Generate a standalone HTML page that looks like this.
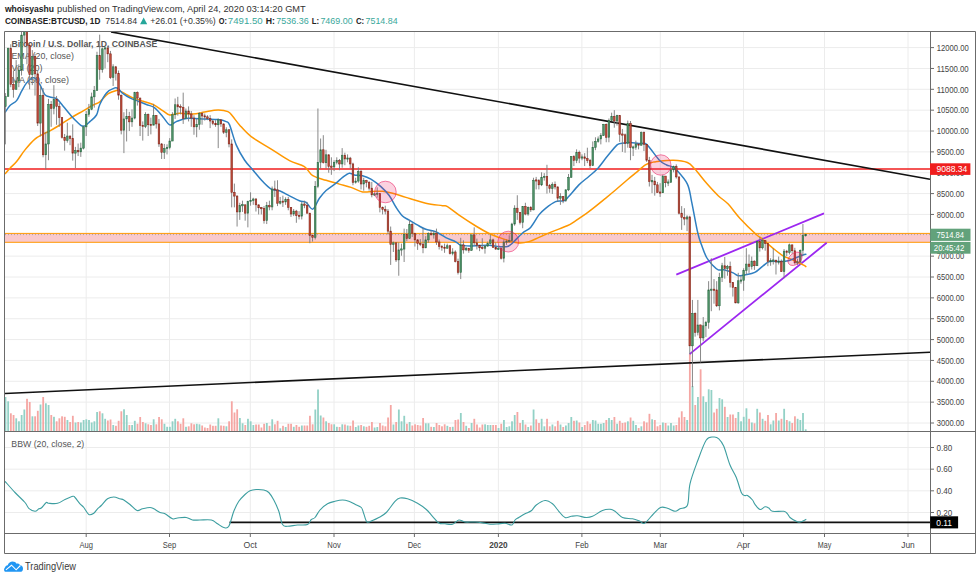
<!DOCTYPE html><html><head><meta charset="utf-8"><style>html,body{margin:0;padding:0;background:#fff;}body{width:980px;height:580px;overflow:hidden;position:relative;}svg{position:absolute;left:0;top:0;}text{font-family:"Liberation Sans",sans-serif;}</style></head><body><svg width="980" height="580" viewBox="0 0 980 580"><defs><clipPath id="cp"><rect x="5" y="32" width="925" height="399"/></clipPath><clipPath id="cb"><rect x="5" y="432" width="925" height="101"/></clipPath></defs><path d="M86.2 32V533 M169.5 32V533 M250.3 32V533 M334.0 32V533 M414.4 32V533 M498.4 32V533 M581.9 32V533 M660.3 32V533 M743.5 32V533 M824.5 32V533 M908.0 32V533 M5 47.60H930 M5 68.46H930 M5 89.31H930 M5 110.17H930 M5 131.02H930 M5 151.88H930 M5 172.73H930 M5 193.59H930 M5 214.44H930 M5 235.30H930 M5 256.15H930 M5 277.01H930 M5 297.87H930 M5 318.72H930 M5 339.58H930 M5 360.43H930 M5 381.29H930 M5 402.14H930 M5 423.00H930 M5 447.50H930 M5 469.16H930 M5 490.82H930 M5 512.48H930" stroke="#ececec" stroke-width="1" fill="none"/><g clip-path="url(#cp)"><g fill="#93d1c6"><rect x="4.57" y="397.00" width="1.8" height="34.25"/><rect x="7.26" y="401.30" width="1.8" height="29.95"/><rect x="15.35" y="418.30" width="1.8" height="12.95"/><rect x="18.04" y="421.30" width="1.8" height="9.95"/><rect x="20.73" y="415.00" width="1.8" height="16.25"/><rect x="23.43" y="409.50" width="1.8" height="21.75"/><rect x="31.51" y="416.30" width="1.8" height="14.95"/><rect x="39.60" y="404.50" width="1.8" height="26.75"/><rect x="44.98" y="403.30" width="1.8" height="27.95"/><rect x="47.68" y="405.00" width="1.8" height="26.25"/><rect x="53.07" y="416.80" width="1.8" height="14.45"/><rect x="66.54" y="420.00" width="1.8" height="11.25"/><rect x="74.62" y="422.50" width="1.8" height="8.75"/><rect x="80.01" y="422.50" width="1.8" height="8.75"/><rect x="82.71" y="420.00" width="1.8" height="11.25"/><rect x="85.40" y="419.30" width="1.8" height="11.95"/><rect x="88.09" y="420.00" width="1.8" height="11.25"/><rect x="90.79" y="422.50" width="1.8" height="8.75"/><rect x="93.48" y="421.30" width="1.8" height="9.95"/><rect x="96.18" y="412.00" width="1.8" height="19.25"/><rect x="101.57" y="413.30" width="1.8" height="17.95"/><rect x="104.26" y="418.80" width="1.8" height="12.45"/><rect x="112.34" y="425.00" width="1.8" height="6.25"/><rect x="123.12" y="409.30" width="1.8" height="21.95"/><rect x="125.82" y="415.00" width="1.8" height="16.25"/><rect x="131.20" y="425.00" width="1.8" height="6.25"/><rect x="133.90" y="420.80" width="1.8" height="10.45"/><rect x="144.68" y="423.30" width="1.8" height="7.95"/><rect x="152.76" y="419.30" width="1.8" height="11.95"/><rect x="163.54" y="423.80" width="1.8" height="7.45"/><rect x="166.23" y="426.80" width="1.8" height="4.45"/><rect x="168.93" y="426.80" width="1.8" height="4.45"/><rect x="171.62" y="421.30" width="1.8" height="9.95"/><rect x="174.32" y="418.80" width="1.8" height="12.45"/><rect x="185.09" y="426.80" width="1.8" height="4.45"/><rect x="195.87" y="423.80" width="1.8" height="7.45"/><rect x="198.56" y="424.30" width="1.8" height="6.95"/><rect x="217.43" y="418.30" width="1.8" height="12.95"/><rect x="225.51" y="426.30" width="1.8" height="4.95"/><rect x="238.98" y="418.00" width="1.8" height="13.25"/><rect x="241.68" y="423.30" width="1.8" height="7.95"/><rect x="247.06" y="418.80" width="1.8" height="12.45"/><rect x="249.76" y="421.30" width="1.8" height="9.95"/><rect x="252.45" y="425.00" width="1.8" height="6.25"/><rect x="265.92" y="423.00" width="1.8" height="8.25"/><rect x="271.31" y="419.30" width="1.8" height="11.95"/><rect x="279.40" y="428.30" width="1.8" height="2.95"/><rect x="284.79" y="427.00" width="1.8" height="4.25"/><rect x="292.87" y="426.80" width="1.8" height="4.45"/><rect x="300.95" y="425.50" width="1.8" height="5.75"/><rect x="314.42" y="409.50" width="1.8" height="21.75"/><rect x="317.12" y="389.50" width="1.8" height="41.75"/><rect x="319.81" y="415.50" width="1.8" height="15.75"/><rect x="325.20" y="421.30" width="1.8" height="9.95"/><rect x="333.28" y="424.30" width="1.8" height="6.95"/><rect x="335.98" y="426.80" width="1.8" height="4.45"/><rect x="341.37" y="424.30" width="1.8" height="6.95"/><rect x="346.76" y="425.50" width="1.8" height="5.75"/><rect x="354.84" y="427.00" width="1.8" height="4.25"/><rect x="357.53" y="425.50" width="1.8" height="5.75"/><rect x="362.92" y="426.30" width="1.8" height="4.95"/><rect x="373.70" y="427.50" width="1.8" height="3.75"/><rect x="376.40" y="427.00" width="1.8" height="4.25"/><rect x="392.56" y="424.50" width="1.8" height="6.75"/><rect x="397.95" y="409.50" width="1.8" height="21.75"/><rect x="400.64" y="421.30" width="1.8" height="9.95"/><rect x="403.34" y="415.80" width="1.8" height="15.45"/><rect x="408.73" y="422.00" width="1.8" height="9.25"/><rect x="424.89" y="423.30" width="1.8" height="7.95"/><rect x="427.59" y="423.30" width="1.8" height="7.95"/><rect x="432.98" y="427.00" width="1.8" height="4.25"/><rect x="446.45" y="425.80" width="1.8" height="5.45"/><rect x="451.84" y="426.80" width="1.8" height="4.45"/><rect x="459.92" y="413.00" width="1.8" height="18.25"/><rect x="465.31" y="425.80" width="1.8" height="5.45"/><rect x="470.70" y="423.00" width="1.8" height="8.25"/><rect x="484.17" y="424.30" width="1.8" height="6.95"/><rect x="486.87" y="425.00" width="1.8" height="6.25"/><rect x="489.56" y="425.00" width="1.8" height="6.25"/><rect x="497.64" y="428.00" width="1.8" height="3.25"/><rect x="503.03" y="420.00" width="1.8" height="11.25"/><rect x="505.73" y="427.00" width="1.8" height="4.25"/><rect x="508.42" y="426.30" width="1.8" height="4.95"/><rect x="511.12" y="421.30" width="1.8" height="9.95"/><rect x="513.81" y="415.00" width="1.8" height="16.25"/><rect x="521.89" y="420.00" width="1.8" height="11.25"/><rect x="527.28" y="427.00" width="1.8" height="4.25"/><rect x="532.67" y="409.50" width="1.8" height="21.75"/><rect x="540.75" y="418.80" width="1.8" height="12.45"/><rect x="543.45" y="426.30" width="1.8" height="4.95"/><rect x="551.53" y="424.50" width="1.8" height="6.75"/><rect x="559.61" y="424.50" width="1.8" height="6.75"/><rect x="565.00" y="425.50" width="1.8" height="5.75"/><rect x="567.70" y="423.00" width="1.8" height="8.25"/><rect x="570.39" y="417.00" width="1.8" height="14.25"/><rect x="575.78" y="420.50" width="1.8" height="10.75"/><rect x="581.17" y="427.00" width="1.8" height="4.25"/><rect x="591.95" y="420.00" width="1.8" height="11.25"/><rect x="594.64" y="420.50" width="1.8" height="10.75"/><rect x="597.34" y="423.80" width="1.8" height="7.45"/><rect x="600.03" y="423.80" width="1.8" height="7.45"/><rect x="602.72" y="423.00" width="1.8" height="8.25"/><rect x="608.11" y="418.00" width="1.8" height="13.25"/><rect x="610.81" y="420.00" width="1.8" height="11.25"/><rect x="616.20" y="423.80" width="1.8" height="7.45"/><rect x="626.97" y="421.30" width="1.8" height="9.95"/><rect x="632.36" y="420.80" width="1.8" height="10.45"/><rect x="635.06" y="425.00" width="1.8" height="6.25"/><rect x="640.45" y="426.30" width="1.8" height="4.95"/><rect x="651.22" y="419.30" width="1.8" height="11.95"/><rect x="662.00" y="422.50" width="1.8" height="8.75"/><rect x="667.39" y="425.50" width="1.8" height="5.75"/><rect x="670.08" y="423.00" width="1.8" height="8.25"/><rect x="672.78" y="425.50" width="1.8" height="5.75"/><rect x="686.25" y="420.00" width="1.8" height="11.25"/><rect x="691.64" y="386.00" width="1.8" height="45.25"/><rect x="697.03" y="397.00" width="1.8" height="34.25"/><rect x="702.42" y="396.30" width="1.8" height="34.95"/><rect x="705.11" y="402.00" width="1.8" height="29.25"/><rect x="707.81" y="389.30" width="1.8" height="41.95"/><rect x="710.50" y="390.00" width="1.8" height="41.25"/><rect x="718.58" y="398.00" width="1.8" height="33.25"/><rect x="721.28" y="399.30" width="1.8" height="31.95"/><rect x="726.67" y="417.00" width="1.8" height="14.25"/><rect x="737.44" y="412.00" width="1.8" height="19.25"/><rect x="740.14" y="421.30" width="1.8" height="9.95"/><rect x="742.83" y="416.80" width="1.8" height="14.45"/><rect x="745.53" y="408.30" width="1.8" height="22.95"/><rect x="750.92" y="422.50" width="1.8" height="8.75"/><rect x="756.31" y="408.80" width="1.8" height="22.45"/><rect x="761.69" y="418.80" width="1.8" height="12.45"/><rect x="769.78" y="424.30" width="1.8" height="6.95"/><rect x="772.47" y="420.50" width="1.8" height="10.75"/><rect x="777.86" y="420.50" width="1.8" height="10.75"/><rect x="783.25" y="408.80" width="1.8" height="22.45"/><rect x="788.64" y="421.30" width="1.8" height="9.95"/><rect x="796.72" y="418.80" width="1.8" height="12.45"/><rect x="799.42" y="420.00" width="1.8" height="11.25"/><rect x="802.11" y="413.00" width="1.8" height="18.25"/><rect x="804.80" y="429.30" width="1.8" height="1.95"/></g><g fill="#f5a6a3"><rect x="9.96" y="413.30" width="1.8" height="17.95"/><rect x="12.65" y="415.00" width="1.8" height="16.25"/><rect x="26.12" y="398.80" width="1.8" height="32.45"/><rect x="28.82" y="402.00" width="1.8" height="29.25"/><rect x="34.21" y="416.30" width="1.8" height="14.95"/><rect x="36.90" y="410.80" width="1.8" height="20.45"/><rect x="42.29" y="397.00" width="1.8" height="34.25"/><rect x="50.37" y="415.00" width="1.8" height="16.25"/><rect x="55.76" y="421.30" width="1.8" height="9.95"/><rect x="58.46" y="418.30" width="1.8" height="12.95"/><rect x="61.15" y="416.30" width="1.8" height="14.95"/><rect x="63.84" y="416.80" width="1.8" height="14.45"/><rect x="69.23" y="422.00" width="1.8" height="9.25"/><rect x="71.93" y="415.80" width="1.8" height="15.45"/><rect x="77.32" y="422.00" width="1.8" height="9.25"/><rect x="98.87" y="411.30" width="1.8" height="19.95"/><rect x="106.96" y="420.50" width="1.8" height="10.75"/><rect x="109.65" y="419.50" width="1.8" height="11.75"/><rect x="115.04" y="425.80" width="1.8" height="5.45"/><rect x="117.73" y="420.80" width="1.8" height="10.45"/><rect x="120.43" y="411.30" width="1.8" height="19.95"/><rect x="128.51" y="425.00" width="1.8" height="6.25"/><rect x="136.59" y="423.80" width="1.8" height="7.45"/><rect x="139.29" y="417.00" width="1.8" height="14.25"/><rect x="141.98" y="422.00" width="1.8" height="9.25"/><rect x="147.37" y="424.30" width="1.8" height="6.95"/><rect x="150.07" y="425.00" width="1.8" height="6.25"/><rect x="155.45" y="424.30" width="1.8" height="6.95"/><rect x="158.15" y="417.00" width="1.8" height="14.25"/><rect x="160.84" y="419.30" width="1.8" height="11.95"/><rect x="177.01" y="421.30" width="1.8" height="9.95"/><rect x="179.70" y="423.80" width="1.8" height="7.45"/><rect x="182.40" y="418.30" width="1.8" height="12.95"/><rect x="187.79" y="426.30" width="1.8" height="4.95"/><rect x="190.48" y="423.30" width="1.8" height="7.95"/><rect x="193.18" y="424.30" width="1.8" height="6.95"/><rect x="201.26" y="425.50" width="1.8" height="5.75"/><rect x="203.95" y="427.50" width="1.8" height="3.75"/><rect x="206.65" y="428.00" width="1.8" height="3.25"/><rect x="209.34" y="424.50" width="1.8" height="6.75"/><rect x="212.04" y="425.80" width="1.8" height="5.45"/><rect x="214.73" y="425.80" width="1.8" height="5.45"/><rect x="220.12" y="425.50" width="1.8" height="5.75"/><rect x="222.81" y="425.80" width="1.8" height="5.45"/><rect x="228.20" y="421.30" width="1.8" height="9.95"/><rect x="230.90" y="401.30" width="1.8" height="29.95"/><rect x="233.59" y="412.50" width="1.8" height="18.75"/><rect x="236.29" y="409.30" width="1.8" height="21.95"/><rect x="244.37" y="425.00" width="1.8" height="6.25"/><rect x="255.15" y="424.50" width="1.8" height="6.75"/><rect x="257.84" y="424.50" width="1.8" height="6.75"/><rect x="260.54" y="427.50" width="1.8" height="3.75"/><rect x="263.23" y="423.80" width="1.8" height="7.45"/><rect x="268.62" y="425.80" width="1.8" height="5.45"/><rect x="274.01" y="424.30" width="1.8" height="6.95"/><rect x="276.70" y="420.80" width="1.8" height="10.45"/><rect x="282.09" y="425.80" width="1.8" height="5.45"/><rect x="287.48" y="423.80" width="1.8" height="7.45"/><rect x="290.17" y="423.80" width="1.8" height="7.45"/><rect x="295.56" y="425.00" width="1.8" height="6.25"/><rect x="298.26" y="426.80" width="1.8" height="4.45"/><rect x="303.65" y="425.50" width="1.8" height="5.75"/><rect x="306.34" y="425.50" width="1.8" height="5.75"/><rect x="309.04" y="415.80" width="1.8" height="15.45"/><rect x="311.73" y="424.30" width="1.8" height="6.95"/><rect x="322.51" y="417.50" width="1.8" height="13.75"/><rect x="327.90" y="423.00" width="1.8" height="8.25"/><rect x="330.59" y="424.30" width="1.8" height="6.95"/><rect x="338.67" y="427.00" width="1.8" height="4.25"/><rect x="344.06" y="424.50" width="1.8" height="6.75"/><rect x="349.45" y="425.80" width="1.8" height="5.45"/><rect x="352.15" y="420.50" width="1.8" height="10.75"/><rect x="360.23" y="425.00" width="1.8" height="6.25"/><rect x="365.62" y="426.80" width="1.8" height="4.45"/><rect x="368.31" y="425.80" width="1.8" height="5.45"/><rect x="371.01" y="422.00" width="1.8" height="9.25"/><rect x="379.09" y="423.00" width="1.8" height="8.25"/><rect x="381.78" y="425.50" width="1.8" height="5.75"/><rect x="384.48" y="426.30" width="1.8" height="4.95"/><rect x="387.17" y="417.50" width="1.8" height="13.75"/><rect x="389.87" y="405.00" width="1.8" height="26.25"/><rect x="395.26" y="422.00" width="1.8" height="9.25"/><rect x="406.03" y="423.80" width="1.8" height="7.45"/><rect x="411.42" y="425.50" width="1.8" height="5.75"/><rect x="414.12" y="424.30" width="1.8" height="6.95"/><rect x="416.81" y="425.00" width="1.8" height="6.25"/><rect x="419.51" y="425.50" width="1.8" height="5.75"/><rect x="422.20" y="418.00" width="1.8" height="13.25"/><rect x="430.28" y="426.80" width="1.8" height="4.45"/><rect x="435.67" y="423.00" width="1.8" height="8.25"/><rect x="438.37" y="425.00" width="1.8" height="6.25"/><rect x="441.06" y="426.30" width="1.8" height="4.95"/><rect x="443.76" y="424.30" width="1.8" height="6.95"/><rect x="449.14" y="427.00" width="1.8" height="4.25"/><rect x="454.53" y="420.00" width="1.8" height="11.25"/><rect x="457.23" y="419.50" width="1.8" height="11.75"/><rect x="462.62" y="422.00" width="1.8" height="9.25"/><rect x="468.00" y="428.00" width="1.8" height="3.25"/><rect x="473.39" y="418.80" width="1.8" height="12.45"/><rect x="476.09" y="424.50" width="1.8" height="6.75"/><rect x="478.78" y="427.50" width="1.8" height="3.75"/><rect x="481.48" y="424.50" width="1.8" height="6.75"/><rect x="492.25" y="425.00" width="1.8" height="6.25"/><rect x="494.95" y="425.00" width="1.8" height="6.25"/><rect x="500.34" y="423.80" width="1.8" height="7.45"/><rect x="516.50" y="412.00" width="1.8" height="19.25"/><rect x="519.20" y="423.00" width="1.8" height="8.25"/><rect x="524.59" y="424.50" width="1.8" height="6.75"/><rect x="529.98" y="425.50" width="1.8" height="5.75"/><rect x="535.36" y="419.30" width="1.8" height="11.95"/><rect x="538.06" y="423.00" width="1.8" height="8.25"/><rect x="546.14" y="418.80" width="1.8" height="12.45"/><rect x="548.84" y="426.30" width="1.8" height="4.95"/><rect x="554.23" y="426.30" width="1.8" height="4.95"/><rect x="556.92" y="420.80" width="1.8" height="10.45"/><rect x="562.31" y="427.00" width="1.8" height="4.25"/><rect x="573.09" y="420.80" width="1.8" height="10.45"/><rect x="578.48" y="422.50" width="1.8" height="8.75"/><rect x="583.86" y="425.00" width="1.8" height="6.25"/><rect x="586.56" y="421.30" width="1.8" height="9.95"/><rect x="589.25" y="423.80" width="1.8" height="7.45"/><rect x="605.42" y="420.00" width="1.8" height="11.25"/><rect x="613.50" y="417.00" width="1.8" height="14.25"/><rect x="618.89" y="420.80" width="1.8" height="10.45"/><rect x="621.59" y="423.00" width="1.8" height="8.25"/><rect x="624.28" y="422.50" width="1.8" height="8.75"/><rect x="629.67" y="417.50" width="1.8" height="13.75"/><rect x="637.75" y="428.00" width="1.8" height="3.25"/><rect x="643.14" y="421.30" width="1.8" height="9.95"/><rect x="645.84" y="422.50" width="1.8" height="8.75"/><rect x="648.53" y="413.80" width="1.8" height="17.45"/><rect x="653.92" y="420.00" width="1.8" height="11.25"/><rect x="656.61" y="426.30" width="1.8" height="4.95"/><rect x="659.31" y="425.00" width="1.8" height="6.25"/><rect x="664.70" y="423.00" width="1.8" height="8.25"/><rect x="675.47" y="425.00" width="1.8" height="6.25"/><rect x="678.17" y="417.50" width="1.8" height="13.75"/><rect x="680.86" y="411.30" width="1.8" height="19.95"/><rect x="683.56" y="417.00" width="1.8" height="14.25"/><rect x="688.95" y="354.00" width="1.8" height="77.25"/><rect x="694.33" y="405.00" width="1.8" height="26.25"/><rect x="699.72" y="369.30" width="1.8" height="61.95"/><rect x="713.20" y="412.50" width="1.8" height="18.75"/><rect x="715.89" y="408.80" width="1.8" height="22.45"/><rect x="723.97" y="406.80" width="1.8" height="24.45"/><rect x="729.36" y="414.50" width="1.8" height="16.75"/><rect x="732.06" y="414.50" width="1.8" height="16.75"/><rect x="734.75" y="418.00" width="1.8" height="13.25"/><rect x="748.22" y="418.80" width="1.8" height="12.45"/><rect x="753.61" y="423.30" width="1.8" height="7.95"/><rect x="759.00" y="412.50" width="1.8" height="18.75"/><rect x="764.39" y="420.80" width="1.8" height="10.45"/><rect x="767.08" y="415.00" width="1.8" height="16.25"/><rect x="775.17" y="413.00" width="1.8" height="18.25"/><rect x="780.56" y="418.80" width="1.8" height="12.45"/><rect x="785.94" y="420.00" width="1.8" height="11.25"/><rect x="791.33" y="423.00" width="1.8" height="8.25"/><rect x="794.03" y="416.30" width="1.8" height="14.95"/></g></g><g font-size="9.4" fill="#555"><text x="11.4" y="46.8" font-size="9.8" font-weight="bold" textLength="146" lengthAdjust="spacingAndGlyphs">Bitcoin / U.S. Dollar, 1D, COINBASE</text><text x="11.4" y="58.7" textLength="62.5" lengthAdjust="spacingAndGlyphs">EMA (20, close)</text><text x="11.4" y="71" textLength="31" lengthAdjust="spacingAndGlyphs">Vol (20)</text><text x="11.4" y="83.3" textLength="57.7" lengthAdjust="spacingAndGlyphs">MA (50, close)</text><text x="11.3" y="447" textLength="73" lengthAdjust="spacingAndGlyphs">BBW (20, close, 2)</text></g><g clip-path="url(#cp)"><rect x="5" y="233.8" width="925" height="8.4" fill="#f9c9cc"/><path d="M5 233.4H930M5 242.3H930" stroke="#ff9800" stroke-width="1" fill="none"/><path d="M5 234.6H930" stroke="#999" stroke-width="0.8" stroke-dasharray="1 2" fill="none"/><path d="M5 169H930" stroke="#f01e1e" stroke-width="1.5" fill="none"/><path d="M111 31.9L930 179.3" stroke="#111" stroke-width="1.6" fill="none"/><path d="M5 393.5L930 352.2" stroke="#111" stroke-width="1.6" fill="none"/><path d="M676.3 274.7L824 213.4M689.6 354.1L826.7 242.8" stroke="#9c27f0" stroke-width="1.8" fill="none"/><path d="M5.00 174.00C5.83 173.03 8.07 170.27 10.00 168.20C11.93 166.13 14.10 164.65 16.60 161.60C19.10 158.55 21.95 153.65 25.00 149.90C28.05 146.15 31.85 141.73 34.90 139.10C37.95 136.47 40.80 135.48 43.30 134.10C45.80 132.72 47.13 132.32 49.90 130.80C52.67 129.28 56.30 127.22 59.90 125.00C63.50 122.78 67.62 119.87 71.50 117.50C75.38 115.13 79.58 112.88 83.20 110.80C86.82 108.72 90.43 106.50 93.20 105.00C95.97 103.50 97.30 103.68 99.80 101.80C102.30 99.92 105.42 95.60 108.20 93.70C110.98 91.80 114.57 90.87 116.50 90.40C118.43 89.93 118.13 90.20 119.80 90.90C121.47 91.60 124.28 93.43 126.50 94.60C128.72 95.77 130.33 96.80 133.10 97.90C135.87 99.00 139.77 100.10 143.10 101.20C146.43 102.30 149.78 102.90 153.10 104.50C156.42 106.10 160.23 109.05 163.00 110.80C165.77 112.55 166.93 114.58 169.70 115.00C172.47 115.42 175.72 113.45 179.60 113.30C183.48 113.15 188.83 114.32 193.00 114.10C197.17 113.88 200.45 112.68 204.60 112.00C208.75 111.32 214.02 110.07 217.90 110.00C221.78 109.93 225.40 110.50 227.90 111.60C230.40 112.70 230.97 114.38 232.90 116.60C234.83 118.82 236.45 121.57 239.50 124.90C242.55 128.23 245.92 132.57 251.20 136.60C256.48 140.63 264.82 145.08 271.20 149.10C277.58 153.12 283.97 157.77 289.50 160.70C295.03 163.63 300.52 164.20 304.40 166.70C308.28 169.20 309.18 173.43 312.80 175.70C316.42 177.97 321.68 178.90 326.10 180.30C330.52 181.70 335.15 182.92 339.30 184.10C343.45 185.28 347.12 186.10 351.00 187.40C354.88 188.70 359.00 191.22 362.60 191.90C366.20 192.58 369.27 191.62 372.60 191.50C375.93 191.38 379.27 190.92 382.60 191.20C385.93 191.48 388.72 192.17 392.60 193.20C396.48 194.23 400.37 195.73 405.90 197.40C411.43 199.07 419.70 201.82 425.80 203.20C431.90 204.58 438.88 205.12 442.50 205.70C446.12 206.28 444.73 205.13 447.50 206.70C450.27 208.27 454.38 211.88 459.10 215.10C463.82 218.32 470.80 222.93 475.80 226.00C480.80 229.07 485.23 231.60 489.10 233.50C492.97 235.40 495.68 236.20 499.00 237.40C502.32 238.60 505.67 239.78 509.00 240.70C512.33 241.62 515.68 242.75 519.00 242.90C522.32 243.05 525.58 242.52 528.90 241.60C532.22 240.68 535.02 239.07 538.90 237.40C542.78 235.73 547.48 233.53 552.20 231.60C556.92 229.67 563.32 227.60 567.20 225.80C571.08 224.00 571.90 223.17 575.50 220.80C579.10 218.43 583.80 215.35 588.80 211.60C593.80 207.85 601.05 201.90 605.50 198.30C609.95 194.70 611.90 193.05 615.50 190.00C619.10 186.95 623.78 182.80 627.10 180.00C630.42 177.20 632.35 175.72 635.40 173.20C638.45 170.68 642.62 166.70 645.40 164.90C648.18 163.10 650.23 162.95 652.10 162.40C653.97 161.85 653.07 161.95 656.60 161.60C660.13 161.25 668.17 160.15 673.30 160.30C678.43 160.45 683.80 161.03 687.40 162.50C691.00 163.97 691.70 165.63 694.90 169.10C698.10 172.57 702.72 178.87 706.60 183.30C710.48 187.73 714.60 192.23 718.20 195.70C721.80 199.17 724.60 200.35 728.20 204.10C731.80 207.85 735.08 213.08 739.80 218.20C744.52 223.32 752.88 231.45 756.50 234.80C760.12 238.15 758.73 236.05 761.50 238.30C764.27 240.55 769.50 245.38 773.10 248.30C776.70 251.22 779.77 253.85 783.10 255.80C786.43 257.75 789.77 258.48 793.10 260.00C796.43 261.52 800.88 263.75 803.10 264.90C805.32 266.05 805.85 266.57 806.40 266.90" stroke="#ff9800" stroke-width="1.5" fill="none" stroke-linejoin="round"/><path d="M5.00 112.50C5.83 111.33 8.07 107.48 10.00 105.50C11.93 103.52 14.67 102.98 16.60 100.60C18.53 98.22 19.93 94.15 21.60 91.20C23.27 88.25 24.80 85.12 26.60 82.90C28.40 80.68 30.87 78.60 32.40 77.90C33.93 77.20 34.55 77.58 35.80 78.70C37.05 79.82 38.38 81.95 39.90 84.60C41.42 87.25 43.23 92.53 44.90 94.60C46.57 96.67 47.95 96.32 49.90 97.00C51.85 97.68 54.38 97.17 56.60 98.70C58.82 100.23 60.72 103.28 63.20 106.20C65.68 109.12 69.00 113.40 71.50 116.20C74.00 119.00 76.53 121.40 78.20 123.00C79.87 124.60 80.38 125.33 81.50 125.80C82.62 126.27 83.50 126.50 84.90 125.80C86.30 125.10 87.97 123.40 89.90 121.60C91.83 119.80 94.85 117.85 96.50 115.00C98.15 112.15 98.13 108.18 99.80 104.50C101.47 100.82 104.00 95.67 106.50 92.90C109.00 90.13 112.87 88.60 114.80 87.90C116.73 87.20 116.72 87.73 118.10 88.70C119.48 89.67 121.15 92.17 123.10 93.70C125.05 95.23 127.30 96.65 129.80 97.90C132.30 99.15 135.33 100.10 138.10 101.20C140.87 102.30 143.63 103.38 146.40 104.50C149.17 105.62 151.93 105.82 154.70 107.90C157.47 109.98 160.50 114.17 163.00 117.00C165.50 119.83 167.48 124.13 169.70 124.90C171.92 125.67 173.25 122.70 176.30 121.60C179.35 120.50 183.28 118.72 188.00 118.30C192.72 117.88 199.62 118.88 204.60 119.10C209.58 119.32 214.30 119.18 217.90 119.60C221.50 120.02 224.25 120.72 226.20 121.60C228.15 122.48 227.93 121.02 229.60 124.90C231.27 128.78 233.72 139.05 236.20 144.90C238.68 150.75 241.72 155.82 244.50 160.00C247.28 164.18 249.85 166.40 252.90 170.00C255.95 173.60 259.75 178.42 262.80 181.60C265.85 184.78 268.42 187.57 271.20 189.10C273.98 190.63 276.45 189.68 279.50 190.80C282.55 191.92 286.18 194.13 289.50 195.80C292.82 197.47 296.63 199.70 299.40 200.80C302.17 201.90 303.87 201.02 306.10 202.40C308.33 203.78 310.58 209.78 312.80 209.10C315.02 208.42 317.18 201.40 319.40 198.30C321.62 195.20 323.33 193.02 326.10 190.50C328.87 187.98 333.25 185.38 336.00 183.20C338.75 181.02 340.38 179.07 342.60 177.40C344.82 175.73 347.35 173.62 349.30 173.20C351.25 172.78 352.08 174.48 354.30 174.90C356.52 175.32 359.83 175.00 362.60 175.70C365.37 176.40 367.85 177.28 370.90 179.10C373.95 180.92 377.85 183.87 380.90 186.60C383.95 189.33 386.70 192.10 389.20 195.50C391.70 198.90 393.68 203.58 395.90 207.00C398.12 210.42 400.28 213.82 402.50 216.00C404.72 218.18 406.42 218.43 409.20 220.10C411.98 221.77 416.43 224.47 419.20 226.00C421.97 227.53 423.03 228.33 425.80 229.30C428.57 230.27 432.47 230.42 435.80 231.80C439.13 233.18 442.47 235.93 445.80 237.60C449.13 239.27 453.30 240.55 455.80 241.80C458.30 243.05 458.30 244.42 460.80 245.10C463.30 245.78 467.75 245.82 470.80 245.90C473.85 245.98 476.05 245.70 479.10 245.60C482.15 245.50 485.78 245.13 489.10 245.30C492.42 245.47 495.97 246.38 499.00 246.60C502.03 246.82 505.08 247.17 507.30 246.60C509.52 246.03 509.80 245.43 512.30 243.20C514.80 240.97 519.25 235.83 522.30 233.20C525.35 230.57 527.83 230.45 530.60 227.40C533.37 224.35 536.40 218.08 538.90 214.90C541.40 211.72 542.82 210.52 545.60 208.30C548.38 206.08 552.55 202.85 555.60 201.60C558.65 200.35 561.68 201.68 563.90 200.80C566.12 199.92 566.40 198.95 568.90 196.30C571.40 193.65 575.58 188.20 578.90 184.90C582.22 181.60 585.75 179.13 588.80 176.50C591.85 173.87 594.15 172.42 597.20 169.10C600.25 165.78 603.78 160.63 607.10 156.60C610.42 152.57 614.60 147.12 617.10 144.90C619.60 142.68 619.88 143.72 622.10 143.30C624.32 142.88 627.62 142.35 630.40 142.40C633.18 142.45 636.33 143.42 638.80 143.60C641.27 143.78 643.33 142.72 645.20 143.50C647.07 144.28 647.53 145.42 650.00 148.30C652.47 151.18 657.23 158.02 660.00 160.80C662.77 163.58 664.67 164.03 666.60 165.00C668.53 165.97 669.93 165.77 671.60 166.60C673.27 167.43 673.97 167.08 676.60 170.00C679.23 172.92 684.90 178.83 687.40 184.10C689.90 189.37 689.87 193.45 691.60 201.60C693.33 209.75 696.13 225.77 697.80 233.00C699.47 240.23 700.13 240.92 701.60 245.00C703.07 249.08 704.67 254.03 706.60 257.50C708.53 260.97 711.27 263.73 713.20 265.80C715.13 267.87 716.25 269.22 718.20 269.90C720.15 270.58 722.40 269.40 724.90 269.90C727.40 270.40 730.98 271.92 733.20 272.90C735.42 273.88 736.27 275.47 738.20 275.80C740.13 276.13 742.03 275.47 744.80 274.90C747.57 274.33 751.75 273.92 754.80 272.40C757.85 270.88 760.60 267.60 763.10 265.80C765.60 264.00 766.75 262.30 769.80 261.60C772.85 260.90 778.35 261.73 781.40 261.60C784.45 261.47 785.88 261.35 788.10 260.80C790.32 260.25 792.20 259.27 794.70 258.30C797.20 257.33 801.15 255.67 803.10 255.00C805.05 254.33 805.85 254.42 806.40 254.30" stroke="#2f7fc1" stroke-width="1.5" fill="none" stroke-linejoin="round"/><path d="M5.37 93.06V144.37 M8.06 47.60V96.40 M10.76 44.26V87.23 M13.45 70.54V97.65 M16.15 60.11V89.73 M18.84 64.28V87.23 M21.53 30.92V75.55 M24.23 14.23V43.43 M26.92 -0.37V64.28 M29.62 43.43V89.31 M32.31 50.10V85.14 M35.01 53.86V95.57 M37.70 70.54V126.02 M40.40 85.97V136.44 M43.09 88.06V157.30 M45.78 131.86V169.40 M48.48 98.90V160.22 M51.17 100.99V126.85 M53.87 85.14V114.34 M56.56 95.98V124.77 M59.26 103.08V126.85 M61.95 117.67V138.53 M64.64 133.94V150.63 M67.34 122.68V142.70 M70.03 135.61V145.20 M72.73 124.35V160.64 M75.42 146.87V168.14 M78.12 143.54V156.05 M80.81 142.70V156.88 M83.51 125.60V149.37 M86.20 111.00V136.03 M88.89 103.91V116.84 M91.59 92.65V110.17 M94.28 85.97V107.66 M96.98 51.77V90.56 M99.67 34.67V79.72 M102.37 47.60V72.63 M105.06 47.18V68.46 M107.76 45.93V62.20 M110.45 50.94V78.88 M113.14 64.28V85.97 M115.84 65.95V80.55 M118.53 70.54V99.74 M121.23 94.73V134.36 M123.92 112.25V153.13 M126.62 108.92V141.45 M129.31 111.83V131.02 M132.00 109.33V126.85 M134.70 91.81V119.34 M137.39 91.40V105.58 M140.09 97.65V136.03 M142.78 121.43V140.62 M145.48 112.25V128.10 M148.17 113.50V136.03 M150.87 117.67V134.36 M153.56 103.91V125.18 M156.25 115.17V128.52 M158.95 118.93V146.87 M161.64 143.12V158.97 M164.34 143.95V158.97 M167.03 144.37V154.38 M169.73 138.11V149.37 M172.42 112.25V141.03 M175.12 98.49V118.93 M177.81 96.82V115.59 M180.50 104.33V114.34 M183.20 92.65V123.93 M185.89 108.50V118.93 M188.59 106.41V121.43 M191.28 111.00V126.85 M193.98 115.17V134.78 M196.67 118.93V137.28 M199.36 112.25V129.77 M202.06 112.25V124.77 M204.75 113.50V120.59 M207.45 115.17V120.18 M210.14 115.17V128.10 M212.84 119.76V125.18 M215.53 120.18V126.85 M218.23 118.51V148.12 M220.92 119.34V126.85 M223.61 123.51V133.94 M226.31 127.27V137.28 M229.00 128.94V147.29 M231.70 139.36V207.35 M234.39 183.58V207.35 M237.09 195.26V226.54 M239.78 202.76V219.87 M242.48 200.68V211.94 M245.17 204.43V220.70 M247.86 200.68V227.37 M250.56 192.34V205.68 M253.25 197.76V204.85 M255.95 198.18V211.52 M258.64 204.43V214.44 M261.34 206.94V214.44 M264.03 206.10V223.62 M266.72 201.93V224.04 M269.42 200.68V210.27 M272.11 186.50V210.27 M274.81 180.66V196.93 M277.50 180.24V206.10 M280.20 196.93V204.43 M282.89 195.67V206.94 M285.59 197.34V204.85 M288.28 196.93V210.27 M290.97 207.35V216.95 M293.67 209.02V216.11 M296.36 209.86V222.79 M299.06 211.11V219.45 M301.75 201.93V219.45 M304.45 200.68V208.19 M307.14 201.93V213.19 M309.84 212.78V243.22 M312.53 234.47V241.56 M315.22 181.08V239.47 M317.92 108.50V188.17 M320.61 138.53V168.56 M323.31 135.19V163.56 M326.00 149.79V168.56 M328.70 154.38V172.73 M331.39 157.30V174.82 M334.08 160.22V171.06 M336.78 157.30V164.39 M339.47 158.97V170.23 M342.17 148.12V167.73 M344.86 152.71V165.23 M347.56 154.38V162.31 M350.25 156.88V168.56 M352.95 162.72V185.25 M355.64 177.74V183.58 M358.33 167.31V182.74 M361.03 169.81V189.42 M363.72 177.74V190.67 M366.42 179.82V187.33 M369.11 181.08V190.67 M371.81 181.91V197.34 M374.50 192.75V196.09 M377.20 187.33V197.76 M379.89 193.17V212.36 M382.58 206.52V214.44 M385.28 205.68V214.44 M387.97 209.02V234.47 M390.67 226.54V264.91 M393.36 241.56V251.98 M396.06 242.39V261.99 M398.75 242.39V275.76 M401.44 243.64V255.74 M404.14 228.63V261.99 M406.83 229.04V241.14 M409.53 219.87V239.05 M412.22 222.79V236.97 M414.92 233.21V246.56 M417.61 239.05V249.90 M420.31 239.05V246.14 M423.00 228.21V253.24 M425.69 236.13V248.23 M428.39 232.38V242.81 M431.08 230.71V235.30 M433.78 231.13V238.64 M436.47 228.63V244.89 M439.17 239.47V249.48 M441.86 244.89V250.73 M444.56 243.64V252.82 M447.25 243.64V248.65 M449.94 244.89V254.49 M452.64 248.23V255.32 M455.33 250.32V262.41 M458.03 258.66V274.51 M460.72 237.80V279.10 M463.42 240.30V253.65 M466.11 246.98V251.15 M468.80 248.23V252.82 M471.50 234.88V250.73 M474.19 227.37V245.31 M476.89 238.64V249.48 M479.58 244.89V251.15 M482.28 238.22V249.48 M484.97 244.89V253.65 M487.67 241.56V246.56 M490.36 234.47V244.48 M493.05 238.64V247.81 M495.75 242.39V249.90 M498.44 245.73V249.90 M501.14 247.40V259.49 M503.83 239.47V262.41 M506.53 239.47V244.89 M509.22 235.30V242.81 M511.92 222.79V241.56 M514.61 205.27V225.71 M517.30 195.26V219.87 M520.00 212.36V224.45 M522.69 206.10V228.21 M525.39 202.76V215.28 M528.08 206.52V215.70 M530.78 206.10V211.94 M533.47 177.74V210.27 M536.16 176.90V189.42 M538.86 178.99V189.42 M541.55 172.32V186.08 M544.25 173.15V180.66 M546.94 164.81V193.59 M549.64 183.99V192.75 M552.33 182.33V194.01 M555.03 181.49V189.42 M557.72 186.50V201.93 M560.41 193.17V204.85 M563.11 196.09V203.18 M565.80 189.42V201.93 M568.50 173.98V191.09 M571.19 156.05V177.74 M573.89 155.21V166.06 M576.58 149.37V163.14 M579.28 150.63V163.14 M581.97 154.38V160.22 M584.66 153.13V166.06 M587.36 147.71V163.14 M590.05 158.97V168.56 M592.75 141.45V166.06 M595.44 137.28V150.21 M598.14 136.44V142.70 M600.83 133.11V144.37 M603.52 123.93V136.03 M606.22 123.51V142.28 M608.91 118.51V142.28 M611.61 112.67V120.59 M614.30 110.17V127.69 M617.00 114.75V125.60 M619.69 115.17V141.87 M622.39 128.94V151.88 M625.08 133.52V152.71 M627.77 120.59V147.71 M630.47 121.01V160.22 M633.16 145.62V156.05 M635.86 140.62V149.79 M638.55 143.54V149.37 M641.25 131.44V145.62 M643.94 131.44V151.04 M646.64 143.95V161.89 M649.33 156.88V186.50 M652.02 174.82V193.17 M654.72 176.90V195.67 M657.41 181.91V192.75 M660.11 183.16V196.93 M662.80 174.82V192.75 M665.50 176.07V187.33 M668.19 179.41V186.08 M670.88 166.48V182.74 M673.58 165.64V172.32 M676.27 164.39V178.57 M678.97 176.90V214.44 M681.66 206.10V229.88 M684.36 208.19V225.29 M687.05 215.28V231.13 M689.75 215.70V354.18 M692.44 299.95V387.13 M695.13 312.46V336.66 M697.83 299.95V335.41 M700.52 324.56V362.52 M703.22 317.05V341.25 M705.91 320.81V337.07 M708.61 281.18V328.73 M711.30 258.24V311.21 M714.00 279.10V303.71 M716.69 281.18V307.04 M719.38 272.84V310.38 M722.08 262.83V282.02 M724.77 256.99V278.68 M727.47 264.91V275.76 M730.16 261.58V287.44 M732.86 282.43V296.61 M735.55 287.02V303.29 M738.24 272.84V303.71 M740.94 275.76V283.68 M743.63 268.25V290.78 M746.33 248.23V274.51 M749.02 254.49V272.84 M751.72 256.57V269.50 M754.41 260.33V269.92 M757.11 241.14V265.75 M759.80 236.97V251.57 M762.49 237.80V249.48 M765.19 240.30V250.73 M767.88 243.64V266.17 M770.58 258.24V265.75 M773.27 248.23V264.50 M775.97 259.49V274.51 M778.66 256.57V264.50 M781.36 259.49V272.01 M784.05 249.06V278.26 M786.74 249.90V256.15 M789.44 243.64V254.49 M792.13 244.48V253.65 M794.83 247.81V264.50 M797.52 258.66V264.91 M800.22 249.48V263.25 M802.91 224.04V255.32 M805.60 233.78V236.59" stroke="#7a7a7a" stroke-width="0.9" fill="none"/><g fill="#4f9268" stroke="#2b6a43" stroke-width="0.55"><rect x="4.57" y="96.40" width="1.6" height="10.01"/><rect x="7.26" y="48.43" width="1.6" height="47.97"/><rect x="15.35" y="80.97" width="1.6" height="8.34"/><rect x="18.04" y="70.12" width="1.6" height="10.84"/><rect x="20.73" y="35.09" width="1.6" height="35.04"/><rect x="23.43" y="23.41" width="1.6" height="11.68"/><rect x="31.51" y="56.36" width="1.6" height="18.35"/><rect x="39.60" y="95.57" width="1.6" height="27.53"/><rect x="44.98" y="143.95" width="1.6" height="10.84"/><rect x="47.68" y="104.33" width="1.6" height="39.63"/><rect x="53.07" y="99.32" width="1.6" height="9.18"/><rect x="66.54" y="136.03" width="1.6" height="4.59"/><rect x="74.62" y="150.63" width="1.6" height="2.50"/><rect x="80.01" y="148.12" width="1.6" height="3.75"/><rect x="82.71" y="126.85" width="1.6" height="21.27"/><rect x="85.40" y="114.34" width="1.6" height="12.51"/><rect x="88.09" y="109.33" width="1.6" height="5.01"/><rect x="90.79" y="96.82" width="1.6" height="12.51"/><rect x="93.48" y="90.56" width="1.6" height="6.26"/><rect x="96.18" y="55.53" width="1.6" height="35.04"/><rect x="101.57" y="48.85" width="1.6" height="20.86"/><rect x="104.26" y="47.83" width="1.6" height="1.20"/><rect x="112.34" y="66.79" width="1.6" height="10.84"/><rect x="123.12" y="118.93" width="1.6" height="11.26"/><rect x="125.82" y="116.42" width="1.6" height="2.50"/><rect x="131.20" y="118.09" width="1.6" height="3.75"/><rect x="133.90" y="92.65" width="1.6" height="25.44"/><rect x="144.68" y="114.34" width="1.6" height="12.10"/><rect x="152.76" y="115.59" width="1.6" height="9.59"/><rect x="163.54" y="148.54" width="1.6" height="3.75"/><rect x="166.23" y="147.52" width="1.6" height="1.20"/><rect x="168.93" y="141.03" width="1.6" height="6.67"/><rect x="171.62" y="114.75" width="1.6" height="26.28"/><rect x="174.32" y="104.74" width="1.6" height="10.01"/><rect x="185.09" y="111.00" width="1.6" height="7.51"/><rect x="195.87" y="124.35" width="1.6" height="2.50"/><rect x="198.56" y="113.50" width="1.6" height="10.84"/><rect x="217.43" y="119.76" width="1.6" height="5.01"/><rect x="225.51" y="129.77" width="1.6" height="2.50"/><rect x="238.98" y="205.68" width="1.6" height="6.26"/><rect x="241.68" y="204.67" width="1.6" height="1.20"/><rect x="247.06" y="201.51" width="1.6" height="11.68"/><rect x="249.76" y="200.50" width="1.6" height="1.20"/><rect x="252.45" y="199.01" width="1.6" height="1.67"/><rect x="265.92" y="205.68" width="1.6" height="15.02"/><rect x="271.31" y="189.00" width="1.6" height="17.94"/><rect x="279.40" y="201.51" width="1.6" height="1.67"/><rect x="284.79" y="199.43" width="1.6" height="2.50"/><rect x="292.87" y="211.11" width="1.6" height="2.92"/><rect x="300.95" y="204.02" width="1.6" height="12.10"/><rect x="314.42" y="186.50" width="1.6" height="50.89"/><rect x="317.12" y="162.31" width="1.6" height="24.19"/><rect x="319.81" y="149.79" width="1.6" height="12.51"/><rect x="325.20" y="154.80" width="1.6" height="7.93"/><rect x="333.28" y="162.31" width="1.6" height="4.59"/><rect x="335.98" y="160.64" width="1.6" height="1.67"/><rect x="341.37" y="155.21" width="1.6" height="8.76"/><rect x="346.76" y="157.95" width="1.6" height="1.20"/><rect x="354.84" y="181.08" width="1.6" height="1.25"/><rect x="357.53" y="171.48" width="1.6" height="9.59"/><rect x="362.92" y="180.66" width="1.6" height="3.34"/><rect x="373.70" y="193.82" width="1.6" height="1.20"/><rect x="376.40" y="193.20" width="1.6" height="1.20"/><rect x="392.56" y="242.81" width="1.6" height="1.67"/><rect x="397.95" y="249.90" width="1.6" height="10.01"/><rect x="400.64" y="248.88" width="1.6" height="1.20"/><rect x="403.34" y="234.47" width="1.6" height="14.60"/><rect x="408.73" y="224.45" width="1.6" height="14.18"/><rect x="424.89" y="239.89" width="1.6" height="7.93"/><rect x="427.59" y="233.63" width="1.6" height="6.26"/><rect x="432.98" y="233.63" width="1.6" height="1.25"/><rect x="446.45" y="245.73" width="1.6" height="2.50"/><rect x="451.84" y="251.98" width="1.6" height="1.67"/><rect x="459.92" y="244.89" width="1.6" height="27.53"/><rect x="465.31" y="248.23" width="1.6" height="1.67"/><rect x="470.70" y="234.88" width="1.6" height="15.43"/><rect x="484.17" y="246.14" width="1.6" height="2.09"/><rect x="486.87" y="243.64" width="1.6" height="2.50"/><rect x="489.56" y="239.89" width="1.6" height="3.75"/><rect x="497.64" y="248.26" width="1.6" height="1.20"/><rect x="503.03" y="241.97" width="1.6" height="16.27"/><rect x="505.73" y="241.16" width="1.6" height="1.20"/><rect x="508.42" y="240.54" width="1.6" height="1.20"/><rect x="511.12" y="224.04" width="1.6" height="16.68"/><rect x="513.81" y="208.19" width="1.6" height="15.85"/><rect x="521.89" y="206.52" width="1.6" height="15.85"/><rect x="527.28" y="207.35" width="1.6" height="6.67"/><rect x="532.67" y="180.24" width="1.6" height="29.61"/><rect x="540.75" y="177.32" width="1.6" height="7.51"/><rect x="543.45" y="176.30" width="1.6" height="1.20"/><rect x="551.53" y="184.41" width="1.6" height="4.17"/><rect x="559.61" y="196.51" width="1.6" height="1.67"/><rect x="565.00" y="189.83" width="1.6" height="10.84"/><rect x="567.70" y="177.32" width="1.6" height="12.51"/><rect x="570.39" y="156.47" width="1.6" height="20.86"/><rect x="575.78" y="152.29" width="1.6" height="8.34"/><rect x="581.17" y="156.88" width="1.6" height="1.25"/><rect x="591.95" y="147.29" width="1.6" height="18.35"/><rect x="594.64" y="141.45" width="1.6" height="5.84"/><rect x="597.34" y="138.95" width="1.6" height="2.50"/><rect x="600.03" y="135.61" width="1.6" height="3.34"/><rect x="602.72" y="124.35" width="1.6" height="11.26"/><rect x="608.11" y="120.59" width="1.6" height="16.68"/><rect x="610.81" y="116.42" width="1.6" height="4.17"/><rect x="616.20" y="115.59" width="1.6" height="5.42"/><rect x="626.97" y="123.51" width="1.6" height="20.02"/><rect x="632.36" y="146.90" width="1.6" height="1.20"/><rect x="635.06" y="143.95" width="1.6" height="3.34"/><rect x="640.45" y="132.69" width="1.6" height="12.51"/><rect x="651.22" y="180.68" width="1.6" height="1.20"/><rect x="662.00" y="176.07" width="1.6" height="16.68"/><rect x="667.39" y="181.94" width="1.6" height="1.20"/><rect x="670.08" y="169.81" width="1.6" height="12.51"/><rect x="672.78" y="166.48" width="1.6" height="3.34"/><rect x="686.25" y="216.95" width="1.6" height="2.09"/><rect x="691.64" y="313.30" width="1.6" height="32.53"/><rect x="697.03" y="324.98" width="1.6" height="7.51"/><rect x="702.42" y="325.81" width="1.6" height="12.10"/><rect x="705.11" y="322.48" width="1.6" height="3.34"/><rect x="707.81" y="289.94" width="1.6" height="32.53"/><rect x="710.50" y="289.13" width="1.6" height="1.20"/><rect x="718.58" y="277.43" width="1.6" height="28.36"/><rect x="721.28" y="265.75" width="1.6" height="11.68"/><rect x="726.67" y="266.58" width="1.6" height="2.09"/><rect x="737.44" y="280.76" width="1.6" height="22.11"/><rect x="740.14" y="279.96" width="1.6" height="1.20"/><rect x="742.83" y="270.34" width="1.6" height="10.01"/><rect x="745.53" y="264.08" width="1.6" height="6.26"/><rect x="750.92" y="261.16" width="1.6" height="5.42"/><rect x="756.31" y="241.56" width="1.6" height="24.19"/><rect x="761.69" y="240.72" width="1.6" height="7.09"/><rect x="769.78" y="260.56" width="1.6" height="1.20"/><rect x="772.47" y="259.93" width="1.6" height="1.20"/><rect x="777.86" y="261.19" width="1.6" height="1.20"/><rect x="783.25" y="251.15" width="1.6" height="20.44"/><rect x="788.64" y="244.89" width="1.6" height="7.51"/><rect x="796.72" y="261.81" width="1.6" height="1.20"/><rect x="799.42" y="250.32" width="1.6" height="11.68"/><rect x="802.11" y="235.65" width="1.6" height="14.66"/><rect x="804.80" y="234.57" width="1.6" height="1.20"/></g><g fill="#bf4d3c" stroke="#842519" stroke-width="0.55"><rect x="9.96" y="48.43" width="1.6" height="35.87"/><rect x="12.65" y="84.31" width="1.6" height="5.01"/><rect x="26.12" y="23.41" width="1.6" height="22.11"/><rect x="28.82" y="45.51" width="1.6" height="29.20"/><rect x="34.21" y="56.36" width="1.6" height="17.52"/><rect x="36.90" y="73.88" width="1.6" height="49.22"/><rect x="42.29" y="95.57" width="1.6" height="59.23"/><rect x="50.37" y="104.33" width="1.6" height="4.17"/><rect x="55.76" y="99.32" width="1.6" height="7.09"/><rect x="58.46" y="106.41" width="1.6" height="11.26"/><rect x="61.15" y="117.67" width="1.6" height="19.60"/><rect x="63.84" y="137.28" width="1.6" height="3.34"/><rect x="69.23" y="136.03" width="1.6" height="2.50"/><rect x="71.93" y="138.53" width="1.6" height="14.60"/><rect x="77.32" y="150.63" width="1.6" height="1.25"/><rect x="98.87" y="55.53" width="1.6" height="14.18"/><rect x="106.96" y="48.02" width="1.6" height="5.84"/><rect x="109.65" y="53.86" width="1.6" height="23.78"/><rect x="115.04" y="66.79" width="1.6" height="6.67"/><rect x="117.73" y="73.46" width="1.6" height="21.69"/><rect x="120.43" y="95.15" width="1.6" height="35.04"/><rect x="128.51" y="116.42" width="1.6" height="5.42"/><rect x="136.59" y="92.65" width="1.6" height="5.42"/><rect x="139.29" y="98.07" width="1.6" height="27.53"/><rect x="141.98" y="125.42" width="1.6" height="1.20"/><rect x="147.37" y="114.34" width="1.6" height="10.43"/><rect x="150.07" y="124.37" width="1.6" height="1.20"/><rect x="155.45" y="115.59" width="1.6" height="8.34"/><rect x="158.15" y="123.93" width="1.6" height="20.02"/><rect x="160.84" y="143.95" width="1.6" height="8.34"/><rect x="177.01" y="104.74" width="1.6" height="2.09"/><rect x="179.70" y="106.44" width="1.6" height="1.20"/><rect x="182.40" y="107.25" width="1.6" height="11.26"/><rect x="187.79" y="111.00" width="1.6" height="2.92"/><rect x="190.48" y="113.92" width="1.6" height="4.17"/><rect x="193.18" y="118.09" width="1.6" height="8.76"/><rect x="201.26" y="113.50" width="1.6" height="2.50"/><rect x="203.95" y="115.82" width="1.6" height="1.20"/><rect x="206.65" y="116.84" width="1.6" height="1.67"/><rect x="209.34" y="118.51" width="1.6" height="2.50"/><rect x="212.04" y="121.01" width="1.6" height="2.50"/><rect x="214.73" y="123.51" width="1.6" height="1.25"/><rect x="220.12" y="119.76" width="1.6" height="4.17"/><rect x="222.81" y="123.93" width="1.6" height="8.34"/><rect x="228.20" y="129.77" width="1.6" height="14.18"/><rect x="230.90" y="143.95" width="1.6" height="48.38"/><rect x="233.59" y="192.34" width="1.6" height="3.75"/><rect x="236.29" y="196.09" width="1.6" height="15.85"/><rect x="244.37" y="204.85" width="1.6" height="8.34"/><rect x="255.15" y="199.01" width="1.6" height="5.84"/><rect x="257.84" y="204.85" width="1.6" height="2.92"/><rect x="260.54" y="207.59" width="1.6" height="1.20"/><rect x="263.23" y="208.60" width="1.6" height="12.10"/><rect x="268.62" y="205.68" width="1.6" height="1.25"/><rect x="274.01" y="188.82" width="1.6" height="1.20"/><rect x="276.70" y="189.83" width="1.6" height="13.35"/><rect x="282.09" y="201.12" width="1.6" height="1.20"/><rect x="287.48" y="199.43" width="1.6" height="7.93"/><rect x="290.17" y="207.35" width="1.6" height="6.67"/><rect x="295.56" y="211.11" width="1.6" height="4.59"/><rect x="298.26" y="215.30" width="1.6" height="1.20"/><rect x="303.65" y="204.02" width="1.6" height="1.25"/><rect x="306.34" y="205.27" width="1.6" height="7.93"/><rect x="309.04" y="213.19" width="1.6" height="22.52"/><rect x="311.73" y="235.72" width="1.6" height="1.67"/><rect x="322.51" y="149.79" width="1.6" height="12.93"/><rect x="327.90" y="154.80" width="1.6" height="11.68"/><rect x="330.59" y="166.08" width="1.6" height="1.20"/><rect x="338.67" y="160.64" width="1.6" height="3.34"/><rect x="344.06" y="155.21" width="1.6" height="3.75"/><rect x="349.45" y="158.13" width="1.6" height="5.84"/><rect x="352.15" y="163.97" width="1.6" height="18.35"/><rect x="360.23" y="171.48" width="1.6" height="12.51"/><rect x="365.62" y="180.66" width="1.6" height="1.67"/><rect x="368.31" y="182.33" width="1.6" height="5.84"/><rect x="371.01" y="188.17" width="1.6" height="6.67"/><rect x="379.09" y="193.59" width="1.6" height="13.76"/><rect x="381.78" y="207.35" width="1.6" height="2.09"/><rect x="384.48" y="209.44" width="1.6" height="1.67"/><rect x="387.17" y="211.11" width="1.6" height="20.02"/><rect x="389.87" y="231.13" width="1.6" height="13.35"/><rect x="395.26" y="242.81" width="1.6" height="17.10"/><rect x="406.03" y="234.47" width="1.6" height="4.17"/><rect x="411.42" y="224.45" width="1.6" height="8.76"/><rect x="414.12" y="233.21" width="1.6" height="6.67"/><rect x="416.81" y="239.89" width="1.6" height="3.75"/><rect x="419.51" y="243.25" width="1.6" height="1.20"/><rect x="422.20" y="244.06" width="1.6" height="3.75"/><rect x="430.28" y="233.63" width="1.6" height="1.25"/><rect x="435.67" y="233.63" width="1.6" height="8.34"/><rect x="438.37" y="241.97" width="1.6" height="4.59"/><rect x="441.06" y="246.38" width="1.6" height="1.20"/><rect x="443.76" y="247.21" width="1.6" height="1.20"/><rect x="449.14" y="245.73" width="1.6" height="7.93"/><rect x="454.53" y="251.98" width="1.6" height="9.59"/><rect x="457.23" y="261.58" width="1.6" height="10.84"/><rect x="462.62" y="244.89" width="1.6" height="5.01"/><rect x="468.00" y="248.23" width="1.6" height="2.09"/><rect x="473.39" y="234.88" width="1.6" height="7.93"/><rect x="476.09" y="242.81" width="1.6" height="2.50"/><rect x="478.78" y="245.31" width="1.6" height="2.50"/><rect x="481.48" y="247.42" width="1.6" height="1.20"/><rect x="492.25" y="239.89" width="1.6" height="7.51"/><rect x="494.95" y="247.40" width="1.6" height="1.67"/><rect x="500.34" y="248.65" width="1.6" height="9.59"/><rect x="516.50" y="208.19" width="1.6" height="4.17"/><rect x="519.20" y="212.36" width="1.6" height="10.01"/><rect x="524.59" y="206.52" width="1.6" height="7.51"/><rect x="529.98" y="207.35" width="1.6" height="2.50"/><rect x="535.36" y="179.85" width="1.6" height="1.20"/><rect x="538.06" y="180.66" width="1.6" height="4.17"/><rect x="546.14" y="176.49" width="1.6" height="9.18"/><rect x="548.84" y="185.66" width="1.6" height="2.92"/><rect x="554.23" y="184.41" width="1.6" height="2.50"/><rect x="556.92" y="186.91" width="1.6" height="11.26"/><rect x="562.31" y="196.51" width="1.6" height="4.17"/><rect x="573.09" y="156.47" width="1.6" height="4.17"/><rect x="578.48" y="152.29" width="1.6" height="5.84"/><rect x="583.86" y="156.88" width="1.6" height="1.67"/><rect x="586.56" y="158.55" width="1.6" height="2.09"/><rect x="589.25" y="160.64" width="1.6" height="5.01"/><rect x="605.42" y="124.35" width="1.6" height="12.93"/><rect x="613.50" y="116.42" width="1.6" height="4.59"/><rect x="618.89" y="115.59" width="1.6" height="18.77"/><rect x="621.59" y="133.97" width="1.6" height="1.20"/><rect x="624.28" y="134.78" width="1.6" height="8.76"/><rect x="629.67" y="123.51" width="1.6" height="24.19"/><rect x="637.75" y="143.95" width="1.6" height="1.25"/><rect x="643.14" y="132.69" width="1.6" height="11.68"/><rect x="645.84" y="144.37" width="1.6" height="15.85"/><rect x="648.53" y="160.22" width="1.6" height="21.27"/><rect x="653.92" y="181.08" width="1.6" height="3.75"/><rect x="656.61" y="184.83" width="1.6" height="7.51"/><rect x="659.31" y="191.95" width="1.6" height="1.20"/><rect x="664.70" y="176.07" width="1.6" height="6.67"/><rect x="675.47" y="166.48" width="1.6" height="10.43"/><rect x="678.17" y="176.90" width="1.6" height="36.29"/><rect x="680.86" y="213.19" width="1.6" height="4.17"/><rect x="683.56" y="217.36" width="1.6" height="1.67"/><rect x="688.95" y="216.95" width="1.6" height="128.89"/><rect x="694.33" y="313.30" width="1.6" height="19.19"/><rect x="699.72" y="324.98" width="1.6" height="12.93"/><rect x="713.20" y="289.13" width="1.6" height="1.20"/><rect x="715.89" y="289.94" width="1.6" height="15.85"/><rect x="723.97" y="265.75" width="1.6" height="2.92"/><rect x="729.36" y="266.58" width="1.6" height="15.85"/><rect x="732.06" y="282.43" width="1.6" height="5.01"/><rect x="734.75" y="287.44" width="1.6" height="15.43"/><rect x="748.22" y="264.08" width="1.6" height="2.50"/><rect x="753.61" y="261.16" width="1.6" height="4.59"/><rect x="759.00" y="241.56" width="1.6" height="6.26"/><rect x="764.39" y="240.72" width="1.6" height="2.92"/><rect x="767.08" y="243.64" width="1.6" height="17.94"/><rect x="775.17" y="260.33" width="1.6" height="1.67"/><rect x="780.56" y="261.58" width="1.6" height="10.01"/><rect x="785.94" y="251.15" width="1.6" height="1.25"/><rect x="791.33" y="244.89" width="1.6" height="5.84"/><rect x="794.03" y="250.73" width="1.6" height="12.10"/></g><circle cx="385.4" cy="192" r="10.8" fill="rgba(233,30,99,0.2)" stroke="#e91e63" stroke-width="0.8" stroke-opacity="0.7"/><circle cx="508.3" cy="241.6" r="10.4" fill="rgba(233,30,99,0.2)" stroke="#e91e63" stroke-width="0.8" stroke-opacity="0.7"/><circle cx="660.8" cy="165" r="10.2" fill="rgba(233,30,99,0.2)" stroke="#e91e63" stroke-width="0.8" stroke-opacity="0.7"/><ellipse cx="795" cy="258.8" rx="8" ry="5.6" transform="rotate(-40 795 258.8)" fill="rgba(233,30,99,0.2)" stroke="#e91e63" stroke-width="0.8" stroke-opacity="0.7"/></g><g clip-path="url(#cb)"><path d="M229.5 522.4H930" stroke="#111" stroke-width="1.6" fill="none"/><path d="M5.00 481.30C6.67 483.17 11.67 488.97 15.00 492.50C18.33 496.03 22.70 499.87 25.00 502.50C27.30 505.13 27.13 506.83 28.80 508.30C30.47 509.77 33.33 511.22 35.00 511.30C36.67 511.38 37.75 509.35 38.80 508.80C39.85 508.25 40.05 509.05 41.30 508.00C42.55 506.95 45.05 503.28 46.30 502.50C47.55 501.72 46.93 503.17 48.80 503.30C50.67 503.43 54.80 503.93 57.50 503.30C60.20 502.67 62.42 500.67 65.00 499.50C67.58 498.33 71.33 496.63 73.00 496.30C74.67 495.97 73.83 496.25 75.00 497.50C76.17 498.75 78.53 502.13 80.00 503.80C81.47 505.47 82.33 505.72 83.80 507.50C85.27 509.28 87.13 513.53 88.80 514.50C90.47 515.47 92.35 514.25 93.80 513.30C95.25 512.35 96.25 510.10 97.50 508.80C98.75 507.50 99.63 507.17 101.30 505.50C102.97 503.83 105.42 500.22 107.50 498.80C109.58 497.38 111.72 497.00 113.80 497.00C115.88 497.00 118.33 498.30 120.00 498.80C121.67 499.30 122.13 499.05 123.80 500.00C125.47 500.95 127.80 502.75 130.00 504.50C132.20 506.25 134.92 509.78 137.00 510.50C139.08 511.22 140.33 509.30 142.50 508.80C144.67 508.30 148.12 507.50 150.00 507.50C151.88 507.50 152.13 507.97 153.80 508.80C155.47 509.63 158.13 511.67 160.00 512.50C161.87 513.33 162.92 512.75 165.00 513.80C167.08 514.85 170.42 518.10 172.50 518.80C174.58 519.50 175.20 518.22 177.50 518.00C179.80 517.78 183.80 517.17 186.30 517.50C188.80 517.83 190.22 519.58 192.50 520.00C194.78 520.42 196.87 520.00 200.00 520.00C203.13 520.00 208.38 519.37 211.30 520.00C214.22 520.63 215.42 522.55 217.50 523.80C219.58 525.05 221.92 527.08 223.80 527.50C225.68 527.92 227.13 529.00 228.80 526.30C230.47 523.60 232.13 515.47 233.80 511.30C235.47 507.13 236.93 504.10 238.80 501.30C240.67 498.50 243.13 496.25 245.00 494.50C246.87 492.75 248.12 491.63 250.00 490.80C251.88 489.97 254.00 489.63 256.30 489.50C258.60 489.37 261.72 489.50 263.80 490.00C265.88 490.50 267.13 490.83 268.80 492.50C270.47 494.17 272.13 496.87 273.80 500.00C275.47 503.13 277.35 507.22 278.80 511.30C280.25 515.38 281.05 522.00 282.50 524.50C283.95 527.00 285.00 526.22 287.50 526.30C290.00 526.38 294.17 525.30 297.50 525.00C300.83 524.70 305.20 525.42 307.50 524.50C309.80 523.58 310.05 520.67 311.30 519.50C312.55 518.33 313.55 519.08 315.00 517.50C316.45 515.92 317.92 512.28 320.00 510.00C322.08 507.72 325.00 505.25 327.50 503.80C330.00 502.35 332.50 501.93 335.00 501.30C337.50 500.67 340.20 500.00 342.50 500.00C344.80 500.00 346.72 500.58 348.80 501.30C350.88 502.02 352.92 503.27 355.00 504.30C357.08 505.33 359.83 505.92 361.30 507.50C362.77 509.08 362.85 511.38 363.80 513.80C364.75 516.22 365.55 520.88 367.00 522.00C368.45 523.12 370.53 521.25 372.50 520.50C374.47 519.75 376.50 518.83 378.80 517.50C381.10 516.17 383.60 515.20 386.30 512.50C389.00 509.80 392.72 503.72 395.00 501.30C397.28 498.88 397.92 498.42 400.00 498.00C402.08 497.58 404.58 497.92 407.50 498.80C410.42 499.68 414.37 501.52 417.50 503.30C420.63 505.08 423.80 507.33 426.30 509.50C428.80 511.67 430.42 514.05 432.50 516.30C434.58 518.55 436.72 521.75 438.80 523.00C440.88 524.25 442.72 523.58 445.00 523.80C447.28 524.02 450.20 524.93 452.50 524.30C454.80 523.67 456.72 520.38 458.80 520.00C460.88 519.62 462.30 521.67 465.00 522.00C467.70 522.33 471.67 521.78 475.00 522.00C478.33 522.22 482.50 522.92 485.00 523.30C487.50 523.68 487.92 524.18 490.00 524.30C492.08 524.42 495.00 524.17 497.50 524.00C500.00 523.83 502.58 523.13 505.00 523.30C507.42 523.47 510.33 525.55 512.00 525.00C513.67 524.45 513.87 521.25 515.00 520.00C516.13 518.75 517.13 518.53 518.80 517.50C520.47 516.47 522.92 514.92 525.00 513.80C527.08 512.68 529.42 512.27 531.30 510.80C533.18 509.33 534.02 506.72 536.30 505.00C538.58 503.28 542.30 500.70 545.00 500.50C547.70 500.30 550.20 502.00 552.50 503.80C554.80 505.60 556.72 509.02 558.80 511.30C560.88 513.58 562.92 516.67 565.00 517.50C567.08 518.33 569.22 516.58 571.30 516.30C573.38 516.02 575.00 515.60 577.50 515.80C580.00 516.00 583.80 517.42 586.30 517.50C588.80 517.58 589.80 517.47 592.50 516.30C595.20 515.13 599.58 511.67 602.50 510.50C605.42 509.33 607.92 509.17 610.00 509.30C612.08 509.43 612.92 509.93 615.00 511.30C617.08 512.67 619.58 516.25 622.50 517.50C625.42 518.75 629.58 518.17 632.50 518.80C635.42 519.43 638.00 520.55 640.00 521.30C642.00 522.05 642.42 524.35 644.50 523.30C646.58 522.25 649.83 517.63 652.50 515.00C655.17 512.37 658.00 508.62 660.50 507.50C663.00 506.38 665.08 507.67 667.50 508.30C669.92 508.93 672.92 511.22 675.00 511.30C677.08 511.38 677.92 509.85 680.00 508.80C682.08 507.75 685.83 509.17 687.50 505.00C689.17 500.83 688.33 491.08 690.00 483.80C691.67 476.52 694.78 468.60 697.50 461.30C700.22 454.00 703.58 444.05 706.30 440.00C709.02 435.95 711.72 437.20 713.80 437.00C715.88 436.80 717.13 437.25 718.80 438.80C720.47 440.35 721.93 441.93 723.80 446.30C725.67 450.67 727.92 459.80 730.00 465.00C732.08 470.20 734.42 472.92 736.30 477.50C738.18 482.08 739.93 489.50 741.30 492.50C742.67 495.50 743.47 495.00 744.50 495.50C745.53 496.00 746.17 494.75 747.50 495.50C748.83 496.25 751.25 498.53 752.50 500.00C753.75 501.47 753.75 502.72 755.00 504.30C756.25 505.88 758.33 509.08 760.00 509.50C761.67 509.92 763.53 507.05 765.00 506.80C766.47 506.55 767.55 507.25 768.80 508.00C770.05 508.75 770.00 510.75 772.50 511.30C775.00 511.85 781.30 510.88 783.80 511.30C786.30 511.72 786.47 512.77 787.50 513.80C788.53 514.83 788.53 516.25 790.00 517.50C791.47 518.75 794.63 520.55 796.30 521.30C797.97 522.05 798.33 522.33 800.00 522.00C801.67 521.67 805.25 519.75 806.30 519.30" stroke="#3d9ea0" stroke-width="1.1" fill="none" stroke-linejoin="round"/></g><path d="M4.5 31.5H975.5V553.5H4.5Z M930.5 31.5V553.5 M4.5 431.5H975.5 M4.5 533.5H975.5" stroke="#6b6b6b" stroke-width="1" fill="none"/><path d="M930.5 47.60H934 M930.5 68.46H934 M930.5 89.31H934 M930.5 110.17H934 M930.5 131.02H934 M930.5 151.88H934 M930.5 172.73H934 M930.5 193.59H934 M930.5 214.44H934 M930.5 235.30H934 M930.5 256.15H934 M930.5 277.01H934 M930.5 297.87H934 M930.5 318.72H934 M930.5 339.58H934 M930.5 360.43H934 M930.5 381.29H934 M930.5 402.14H934 M930.5 423.00H934 M930.5 447.50H934 M930.5 469.16H934 M930.5 490.82H934 M930.5 512.48H934 M86.2 533.5V537 M169.5 533.5V537 M250.3 533.5V537 M334.0 533.5V537 M414.4 533.5V537 M498.4 533.5V537 M581.9 533.5V537 M660.3 533.5V537 M743.5 533.5V537 M824.5 533.5V537 M908.0 533.5V537" stroke="#6b6b6b" stroke-width="1" fill="none"/><g font-size="9" fill="#444"><text x="936.7" y="50.80" textLength="32" lengthAdjust="spacingAndGlyphs">12000.00</text><text x="936.7" y="71.66" textLength="32" lengthAdjust="spacingAndGlyphs">11500.00</text><text x="936.7" y="92.51" textLength="32" lengthAdjust="spacingAndGlyphs">11000.00</text><text x="936.7" y="113.37" textLength="32" lengthAdjust="spacingAndGlyphs">10500.00</text><text x="936.7" y="134.22" textLength="32" lengthAdjust="spacingAndGlyphs">10000.00</text><text x="936.7" y="155.08" textLength="27.5" lengthAdjust="spacingAndGlyphs">9500.00</text><text x="936.7" y="175.93" textLength="27.5" lengthAdjust="spacingAndGlyphs">9000.00</text><text x="936.7" y="196.79" textLength="27.5" lengthAdjust="spacingAndGlyphs">8500.00</text><text x="936.7" y="217.64" textLength="27.5" lengthAdjust="spacingAndGlyphs">8000.00</text><text x="936.7" y="238.50" textLength="27.5" lengthAdjust="spacingAndGlyphs">7500.00</text><text x="936.7" y="259.35" textLength="27.5" lengthAdjust="spacingAndGlyphs">7000.00</text><text x="936.7" y="280.21" textLength="27.5" lengthAdjust="spacingAndGlyphs">6500.00</text><text x="936.7" y="301.07" textLength="27.5" lengthAdjust="spacingAndGlyphs">6000.00</text><text x="936.7" y="321.92" textLength="27.5" lengthAdjust="spacingAndGlyphs">5500.00</text><text x="936.7" y="342.78" textLength="27.5" lengthAdjust="spacingAndGlyphs">5000.00</text><text x="936.7" y="363.63" textLength="27.5" lengthAdjust="spacingAndGlyphs">4500.00</text><text x="936.7" y="384.49" textLength="27.5" lengthAdjust="spacingAndGlyphs">4000.00</text><text x="936.7" y="405.34" textLength="27.5" lengthAdjust="spacingAndGlyphs">3500.00</text><text x="936.7" y="426.20" textLength="27.5" lengthAdjust="spacingAndGlyphs">3000.00</text><text x="936.4" y="450.70" textLength="15.8" lengthAdjust="spacingAndGlyphs">0.80</text><text x="936.4" y="472.36" textLength="15.8" lengthAdjust="spacingAndGlyphs">0.60</text><text x="936.4" y="494.02" textLength="15.8" lengthAdjust="spacingAndGlyphs">0.40</text><text x="936.4" y="515.68" textLength="15.8" lengthAdjust="spacingAndGlyphs">0.20</text><text x="86.2" y="548" text-anchor="middle" textLength="13.5" lengthAdjust="spacingAndGlyphs">Aug</text><text x="169.5" y="548" text-anchor="middle" textLength="13.5" lengthAdjust="spacingAndGlyphs">Sep</text><text x="250.3" y="548" text-anchor="middle" textLength="13.5" lengthAdjust="spacingAndGlyphs">Oct</text><text x="334.0" y="548" text-anchor="middle" textLength="13.5" lengthAdjust="spacingAndGlyphs">Nov</text><text x="414.4" y="548" text-anchor="middle" textLength="13.5" lengthAdjust="spacingAndGlyphs">Dec</text><text x="498.4" y="548" text-anchor="middle" font-weight="bold" textLength="18.4" lengthAdjust="spacingAndGlyphs">2020</text><text x="581.9" y="548" text-anchor="middle" textLength="13.5" lengthAdjust="spacingAndGlyphs">Feb</text><text x="660.3" y="548" text-anchor="middle" textLength="13.5" lengthAdjust="spacingAndGlyphs">Mar</text><text x="743.5" y="548" text-anchor="middle" textLength="13.5" lengthAdjust="spacingAndGlyphs">Apr</text><text x="824.5" y="548" text-anchor="middle" textLength="13.5" lengthAdjust="spacingAndGlyphs">May</text><text x="908.0" y="548" text-anchor="middle" textLength="13.5" lengthAdjust="spacingAndGlyphs">Jun</text></g><rect x="930" y="163.3" width="40.4" height="11.6" fill="#f01e1e"/><text x="936.4" y="172.3" font-size="9" fill="#fff" textLength="31" lengthAdjust="spacingAndGlyphs">9088.34</text><rect x="930.3" y="228.7" width="40.2" height="12.2" fill="#62a27b"/><text x="936.6" y="238" font-size="9" fill="#fff" textLength="27.5" lengthAdjust="spacingAndGlyphs">7514.84</text><rect x="930.3" y="241.9" width="40.2" height="11.8" fill="#62a27b"/><text x="933.8" y="251" font-size="9" fill="#fff" textLength="30.5" lengthAdjust="spacingAndGlyphs">20:45:42</text><rect x="930.2" y="516.3" width="27.9" height="12.1" fill="#000"/><text x="936.2" y="525.8" font-size="9.8" fill="#fff" textLength="15.8" lengthAdjust="spacingAndGlyphs">0.11</text><g font-size="9.6" fill="#333"><text x="4.9" y="11.6" font-weight="bold" fill="#222" textLength="49" lengthAdjust="spacingAndGlyphs">whoisyashu</text><text x="57.1" y="11.6" textLength="248.6" lengthAdjust="spacingAndGlyphs">published on TradingView.com, April 24, 2020 03:14:20 GMT</text><text x="4.9" y="24.2" font-weight="bold" fill="#222" textLength="95.5" lengthAdjust="spacingAndGlyphs">COINBASE:BTCUSD, 1D</text><text x="105.3" y="24.2" textLength="31.8" lengthAdjust="spacingAndGlyphs">7514.84</text><path d="M140.1 24.2L143.65 17.5L147.2 24.2Z" fill="#26a69a"/><text x="150.2" y="24.2" textLength="65.6" lengthAdjust="spacingAndGlyphs">+26.01 (+0.35%)</text><text x="218.8" y="24.2" font-weight="bold" fill="#222" textLength="8.2" lengthAdjust="spacingAndGlyphs">O:</text><text x="227.8" y="24.2" fill="#3aa89b" textLength="34.9" lengthAdjust="spacingAndGlyphs">7491.50</text><text x="265.8" y="24.2" font-weight="bold" fill="#222" textLength="9.2" lengthAdjust="spacingAndGlyphs">H:</text><text x="276.3" y="24.2" fill="#3aa89b" textLength="32.4" lengthAdjust="spacingAndGlyphs">7536.36</text><text x="311.8" y="24.2" font-weight="bold" fill="#222" textLength="7.4" lengthAdjust="spacingAndGlyphs">L:</text><text x="320.4" y="24.2" fill="#3aa89b" textLength="32.4" lengthAdjust="spacingAndGlyphs">7469.00</text><text x="355.9" y="24.2" font-weight="bold" fill="#222" textLength="8.3" lengthAdjust="spacingAndGlyphs">C:</text><text x="365.5" y="24.2" fill="#3aa89b" textLength="32.1" lengthAdjust="spacingAndGlyphs">7514.84</text></g><path d="M5.3 571.7C3.9 571.7 3.6 568.8 5 567.6C5.6 566 6.6 565.3 7.7 565.3C8.6 562.6 10.5 561.5 12.5 561.5C14.5 561.5 15.8 562.4 16.6 563.8C17.6 563.2 19.2 563.7 19.9 565C22 565.5 23 566.6 23 568.5C23 570.5 22.3 571.7 21 571.7Z" fill="#2196f3"/><path d="M5.9 569.8L11.5 565.2L16.1 569.8L20.4 565.5" stroke="#fff" stroke-width="1.1" fill="none"/><text x="25" y="569.9" font-size="10.6" fill="#3a3a3a" textLength="51" lengthAdjust="spacingAndGlyphs">TradingView</text></svg></body></html>
